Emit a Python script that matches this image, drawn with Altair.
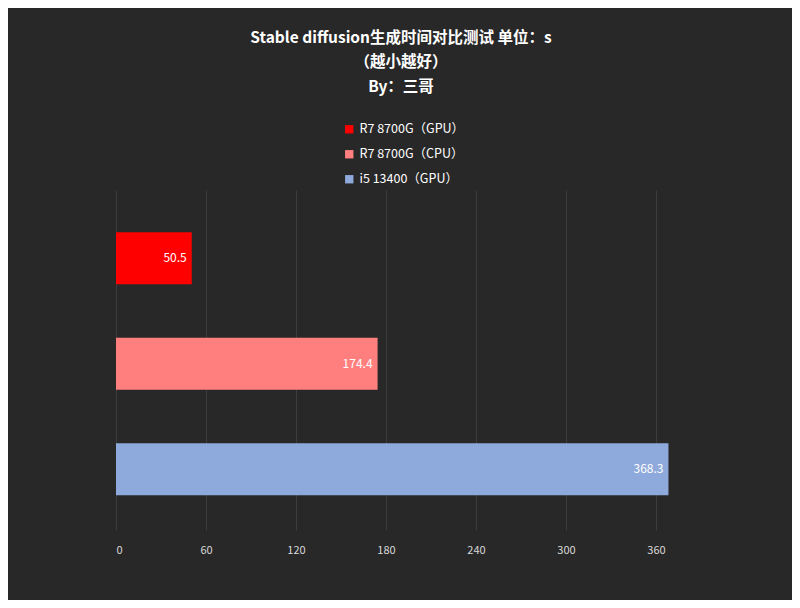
import altair as alt
import pandas as pd

categories = ["R7 8700G（GPU）", "R7 8700G（CPU）", "i5 13400（GPU）"]
values = [50.5, 174.4, 368.3]
colors = ["#FF0000", "#FF7F7F", "#8EA9DB"]
x_ticks = [0, 60, 120, 180, 240, 300, 360]

df = pd.DataFrame({"cat": categories, "val": values})
FONT = "Noto Sans CJK SC"

base = alt.Chart(df).encode(
    y=alt.Y("cat:N", sort=categories, axis=None,
            scale=alt.Scale(paddingInner=0.507, paddingOuter=0.365, align=0.55)),
)

bars = base.mark_bar().encode(
    x=alt.X("val:Q", scale=alt.Scale(domain=[0, 380], nice=False),
            axis=alt.Axis(values=x_ticks, title=None, grid=True, gridColor="#3c3c3c",
                          domain=False, ticks=False, labelColor="#d9d9d9",
                          labelFontSize=11, labelFont=FONT, labelPadding=14)),
    color=alt.Color("cat:N", sort=categories,
                    scale=alt.Scale(domain=categories, range=colors),
                    legend=alt.Legend(title=None, orient="none", legendX=227, legendY=-67,
                                      symbolType="square", symbolSize=70, symbolStrokeWidth=0,
                                      labelColor="#ffffff", labelFontSize=12.5, labelFont=FONT,
                                      rowPadding=12, symbolOffset=0)),
)

labels = base.mark_text(align="right", dx=-5, color="#ffffff", fontSize=12, font=FONT).encode(
    x="val:Q", text=alt.Text("val:Q", format=".1f"),
)

chart = (bars + labels).properties(
    width=570, height=340,
    background="#282828",
    autosize=alt.AutoSizeParams(type="none"),
    padding={"left": 108, "top": 182, "right": 106, "bottom": 70},
    title=alt.TitleParams(
        text=["Stable diffusion生成时间对比测试 单位：s", "（越小越好）", "By：三哥"],
        color="#ffffff", fontSize=15.5, font=FONT, fontWeight="bold",
        lineHeight=24.5, anchor="middle", offset=28,
    ),
).configure_view(stroke=None).configure_axisY(domain=False)

chart.save("out.html", embed_options={"renderer": "svg", "actions": False})
